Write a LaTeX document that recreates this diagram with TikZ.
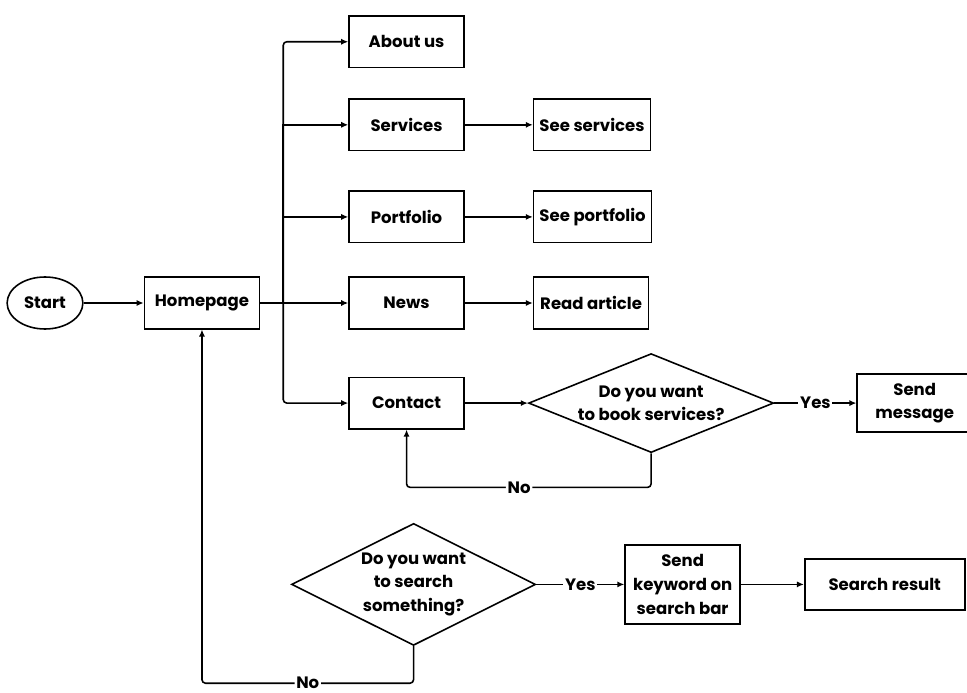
\documentclass[tikz,border=0pt]{standalone}
\usepackage{fontspec}
\setmainfont{Poppins}
\usepackage{tikz}
\usetikzlibrary{positioning}
\usetikzlibrary{shapes.geometric, arrows.meta, positioning}

\begin{document}
\begin{tikzpicture}[
    node distance = 7mm and 12mm,% for distance between nodes
    font = \fontsize{9.4}{13.4}\selectfont\bfseries,
    line width = 0.9pt,
    >={Latex[length=4pt,width=3.5pt]},
       box/.style = {draw, minimum width=2.3cm, minimum height=1.03cm, align=center},% nodes style
      oval/.style = {draw, ellipse, minimum width=1.36cm, minimum height=1.04cm},
    choice/.style = {draw, diamond, inner sep=0pt, align=center},
     ylab/.style = {fill=white, inner sep=1pt}
    ]
    \useasboundingbox (0,0) rectangle (19.34,-13.86);
    \node (start) [oval] at (0.9,-6.06) {Start};
    \node (home) [box, right=1.2cm of start] {Homepage};
    \node (news) [box, right=1.76cm of home] {News};
    \node (portfolio) [box, above=0.66cm of news] {Portfolio};
    \node (services) [box, above=0.78cm of portfolio] {Services};
    \node (about) [box, above=0.6cm of services] {About us};
    \node (contact) [box, below=0.94cm of news] {Contact};
    \node (seeserv) [box, right=1.36cm of services] {See services};
    \node (seeport) [box, right=1.36cm of portfolio] {See portfolio};
    \node (readart) [box, right=1.36cm of news] {Read article};
    \node (book) [choice, aspect=2.47, minimum width=4.9cm, minimum height=1.98cm, right=1.26cm of contact] {Do you want\\to book services?};
    \node (sendmsg) [box, minimum height=1.16cm, right=1.64cm of book] {Send\\message};
    \node (search) [choice, aspect=2, minimum width=4.88cm, minimum height=2.44cm, below=1.86cm of contact, xshift=0.14cm] {Do you want\\to search\\something?};
    \node (keyword) [box, minimum width=2.3cm, minimum height=1.58cm, right=1.76cm of search] {Send\\keyword on\\search bar};
    \node (result) [box, minimum width=3.2cm, minimum height=1.02cm, right=1.26cm of keyword] {Search result};
    \coordinate (bus) at ([xshift=0.46cm]home.east);
    \draw[->] (start) edge (home);
    \draw[->] (home) edge (news);
    \draw[->, rounded corners=2pt] (bus) |- (about);
    \draw[->] (bus) |- (services);
    \draw[->] (bus) |- (portfolio);
    \draw[->, rounded corners=2pt] (bus) |- (contact);
    \draw[->] (services) edge (seeserv);
    \draw[->] (portfolio) edge (seeport);
    \draw[->] (news) edge (readart);
    \draw[->] (contact) edge (book);
    \draw[->] (book) -- node[ylab] {Yes} (sendmsg);
    \draw[->, rounded corners=2pt] (book.south) -- ++(0,-0.68) -| node[ylab, pos=0.27] {No} (contact.south);
    \draw[->] (search) -- node[ylab] {Yes} (keyword);
    \draw[->] (keyword) edge (result);
    \draw[->, rounded corners=2pt] (search.south) -- ++(0,-0.74) -| node[ylab, pos=0.25] {No} (home.south);
\end{tikzpicture}
\end{document}
